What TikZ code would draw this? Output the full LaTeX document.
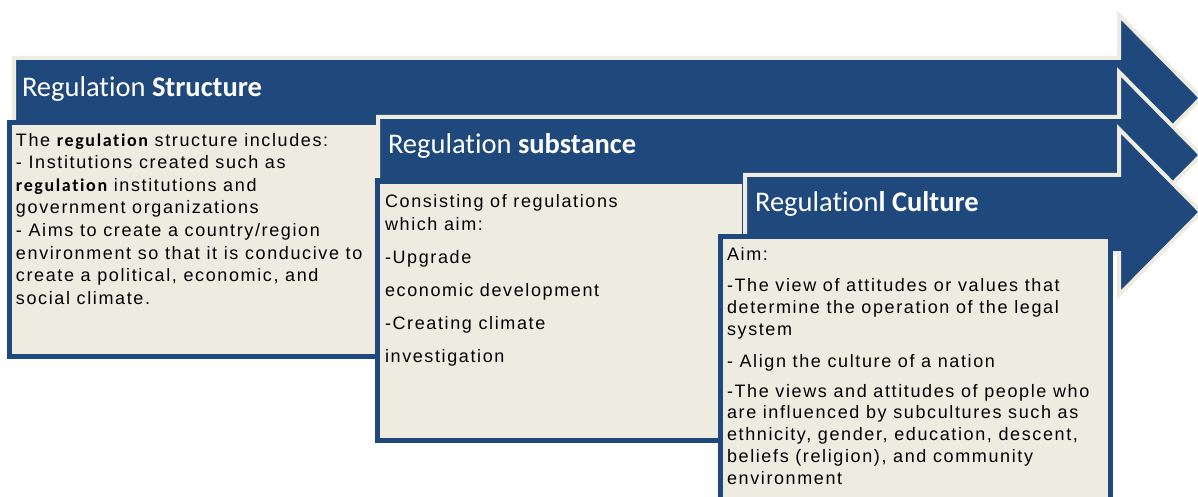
\documentclass[tikz,border=0pt]{standalone}
\usepackage{fontspec}
\setmainfont{Liberation Sans}
\newfontfamily\hdfont[Ligatures=NoCommon]{Carlito}
\newfontfamily\txfont[LetterSpace=9]{Liberation Sans}
\newfontfamily\bdfont[LetterSpace=9,Ligatures=NoCommon]{Carlito}
\definecolor{navy}{HTML}{1F497D}
\definecolor{cream}{HTML}{EEECE1}
\begin{document}
\begin{tikzpicture}[x=1pt,y=-1pt,
  arrowshape/.style={fill=navy, draw=cream, line width=4pt, line join=miter},
  panel/.style={fill=cream, draw=navy, line width=5pt},
  headtext/.style={text=white, font=\hdfont\fontsize{28.5}{34}\selectfont, anchor=base west, inner sep=0pt, outer sep=0pt},
  bodytext/.style={anchor=north west, inner sep=0pt, outer sep=0pt, align=left}]
\useasboundingbox (0,0) rectangle (1198,497);

% arrow 1
\draw[arrowshape] (14,58) -- (1119,58) -- (1119,15) -- (1201,98) -- (1119,181) -- (1119,140) -- (14,140) -- cycle;
\node[headtext] (h1) at (22,97) {Regulation \textbf{Structure}};
% box 1
\draw[panel] (9.5,122.5) rectangle (378,356.5);
\node[bodytext, font=\txfont\fontsize{18}{22.6}\selectfont] (t1) at (16,132) {\rule{0pt}{14pt}The {\bdfont\bfseries regulation} structure includes:\\
- Institutions created such as\\
{\bdfont\bfseries regulation} institutions and\\
government organizations\\
- Aims to create a country/region\\
environment so that it is conducive to\\
create a political, economic, and\\
social climate.};

% arrow 2
\draw[arrowshape] (378,117) -- (1119,117) -- (1119,72) -- (1201,155) -- (1119,238) -- (1119,196) -- (378,196) -- cycle;
\node[headtext] (h2) at (388,154) {Regulation \textbf{substance}};
% box 2
\draw[panel] (377.5,181) rectangle (744,440.5);
\node[bodytext, font=\txfont\fontsize{18}{23}\selectfont] (t2) at (385,193) {\rule{0pt}{14pt}Consisting of regulations\\
which aim:\\[10pt]
-Upgrade\\[10pt]
economic development\\[10pt]
-Creating climate\\[10pt]
investigation};

% arrow 3
\draw[arrowshape] (745,175) -- (1119,175) -- (1119,129) -- (1201,212) -- (1119,295) -- (1119,253) -- (745,253) -- cycle;
\node[headtext] (h3) at (755,211.5) {Regulation\textbf{l Culture}};
% box 3
\draw[panel] (720.5,236) rectangle (1110,515);
\node[bodytext, font=\txfont\fontsize{18}{21.8}\selectfont] (t3) at (727,246) {\rule{0pt}{14pt}Aim:\\[10pt]
-The view of attitudes or values that\\
determine the operation of the legal\\
system\\[10pt]
- Align the culture of a nation\\[8pt]
-The views and attitudes of people who\\
are influenced by subcultures such as\\
ethnicity, gender, education, descent,\\
beliefs (religion), and community\\
environment};
\end{tikzpicture}
\end{document}
